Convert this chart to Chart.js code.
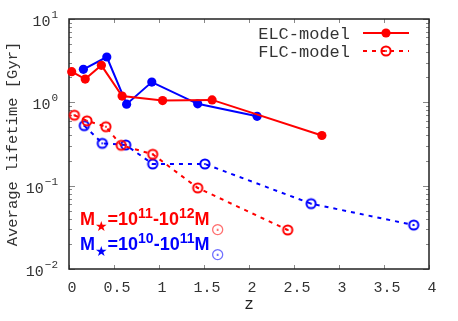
<!DOCTYPE html>
<html>
<head>
<meta charset="utf-8">
<script src="https://cdn.jsdelivr.net/npm/chart.js@4/dist/chart.umd.min.js"></script>
<style>
  html, body { margin: 0; padding: 0; background: #fff; }
  canvas { display: block; }
</style>
</head>
<body>
<canvas id="chart" width="458" height="321"></canvas>
<script>
/* ===== Data ===== */
const zElcHigh = [0.03, 0.18, 0.36, 0.59, 1.04, 1.59, 2.81];
const tElcHigh = [2.33, 1.90, 2.78, 1.19, 1.05, 1.07, 0.40];
const zElcLow  = [0.16, 0.42, 0.64, 0.92, 1.43, 2.09];
const tElcLow  = [2.49, 3.50, 0.95, 1.75, 0.96, 0.68];
const zFlcHigh = [0.06, 0.20, 0.41, 0.58, 0.93, 1.43, 2.43];
const tFlcHigh = [0.70, 0.60, 0.51, 0.305, 0.238, 0.094, 0.0294];
const zFlcLow  = [0.17, 0.37, 0.63, 0.93, 1.51, 2.69, 3.83];
const tFlcLow  = [0.525, 0.322, 0.308, 0.182, 0.182, 0.0608, 0.0337];

const xTicks = [0, 0.5, 1, 1.5, 2, 2.5, 3, 3.5, 4];
const yTicks = [0.01, 0.1, 1, 10];
const legendNames = ['ELC-model', 'FLC-model'];
const massRanges = [['11', '12'], ['10', '11']];

const RED = '#ff0000', BLUE = '#0000ff';
const MONO = '"Liberation Mono", "DejaVu Sans Mono", monospace';

const pts = (xs, ys) => xs.map((x, i) => ({ x, y: ys[i] }));

// open circle with a dot in the middle (gnuplot style)
function ring(color) {
  const c = document.createElement('canvas');
  c.width = 14; c.height = 14;
  const g = c.getContext('2d');
  g.strokeStyle = color; g.fillStyle = color; g.lineWidth = 2;
  g.beginPath(); g.arc(7, 7, 4.6, 0, Math.PI * 2); g.stroke();
  g.beginPath(); g.arc(7, 7, 1, 0, Math.PI * 2); g.fill();
  return c;
}

function solidSet(label, data, color) {
  return { label, data, borderColor: color, backgroundColor: color, borderWidth: 2,
    pointRadius: 4.6, pointBorderWidth: 0, pointStyle: 'circle', clip: false, tension: 0 };
}
function dashedSet(label, data, color) {
  return { label, data, borderColor: color, backgroundColor: color, borderWidth: 2,
    borderDash: [4, 5], pointStyle: ring(color), pointRadius: 5, clip: false, tension: 0 };
}

/* ===== Frame + inward ticks ===== */
const frame = {
  id: 'frame',
  beforeDatasetsDraw(chart) {
    const { ctx, chartArea: a, scales: { x, y } } = chart;
    ctx.save();
    ctx.strokeStyle = '#888'; ctx.lineWidth = 1;
    ctx.beginPath();
    x.ticks.forEach(t => {
      const px = Math.round(x.getPixelForValue(t.value)) + 0.5;
      ctx.moveTo(px, a.bottom); ctx.lineTo(px, a.bottom - 4);
      ctx.moveTo(px, a.top); ctx.lineTo(px, a.top + 4);
    });
    for (let e = -2; e <= 0; e++) {
      for (let m = 1; m <= 10; m++) {
        const v = m * Math.pow(10, e);
        const py = Math.round(y.getPixelForValue(v)) + 0.5;
        const len = (m === 1 || m === 10) ? 6 : 3;
        ctx.moveTo(a.left, py); ctx.lineTo(a.left + len, py);
        ctx.moveTo(a.right, py); ctx.lineTo(a.right - len, py);
      }
    }
    ctx.stroke();
    ctx.strokeStyle = '#222'; ctx.lineWidth = 1.5;
    ctx.strokeRect(a.left, a.top, a.right - a.left, a.bottom - a.top);
    ctx.restore();
  },
  afterDraw(chart) {
    const { ctx, scales: { y } } = chart;
    ctx.save();
    // y tick labels: 10^n
    y.ticks.forEach(t => {
      const ex = String(Math.round(Math.log10(t.value))).replace('-', '−');
      const py = y.getPixelForValue(t.value);
      ctx.font = '15px ' + MONO;
      const wb = ctx.measureText('10').width;
      ctx.font = '11px ' + MONO;
      const we = ctx.measureText(ex).width;
      const x0 = 58 - wb - we - 1;
      ctx.fillStyle = '#333'; ctx.textBaseline = 'alphabetic';
      ctx.font = '15px ' + MONO;
      ctx.fillText('10', x0, py + 7);
      ctx.font = '11px ' + MONO;
      ctx.fillText(ex, x0 + wb + 1, py - 1);
    });

    // legend
    const ds = chart.data.datasets;
    [[ds[0], 33], [ds[2], 51]].forEach(([d, ly]) => {
      ctx.font = '17px ' + MONO; ctx.fillStyle = '#333';
      ctx.textAlign = 'right'; ctx.textBaseline = 'middle';
      ctx.fillText(d.label, 350, ly + 1);
      ctx.strokeStyle = d.borderColor; ctx.lineWidth = 2;
      ctx.setLineDash(d.borderDash || []);
      ctx.beginPath(); ctx.moveTo(363, ly); ctx.lineTo(409, ly); ctx.stroke();
      ctx.setLineDash([]);
      if (d.pointStyle === 'circle') {
        ctx.fillStyle = d.borderColor;
        ctx.beginPath(); ctx.arc(386, ly, 4.6, 0, Math.PI * 2); ctx.fill();
      } else {
        ctx.drawImage(d.pointStyle, 386 - 7, ly - 7);
      }
    });

    // mass-range annotations
    ctx.textAlign = 'left'; ctx.textBaseline = 'alphabetic';
    const main = 'bold 18px "Liberation Sans", Arial, sans-serif';
    const sup = 'bold 14px "Liberation Sans", Arial, sans-serif';
    const star = '14px "DejaVu Sans", sans-serif';
    const sun = '17px "DejaVu Sans", sans-serif';
    [[RED, '#ff7070', 225, massRanges[0]], [BLUE, '#7070ff', 250, massRanges[1]]].forEach(([col, light, by, [e1, e2]]) => {
      let cx = 80;
      const put = (t, f, dy, c) => {
        ctx.font = f; ctx.fillStyle = c || col;
        ctx.fillText(t, cx, by + dy);
        cx += ctx.measureText(t).width;
      };
      put('M', main, 0); put('★', star, 6); put('=10', main, 0); put(e1, sup, -7);
      put('-10', main, 0); put(e2, sup, -7); put('M', main, 0);
      cx += 1; put('⊙', sun, 10, light);
    });
    ctx.restore();
  }
};

new Chart(document.getElementById('chart'), {
  type: 'line',
  data: {
    datasets: [
      solidSet(legendNames[0], pts(zElcHigh, tElcHigh), RED),
      solidSet('', pts(zElcLow, tElcLow), BLUE),
      dashedSet(legendNames[1], pts(zFlcHigh, tFlcHigh), RED),
      dashedSet('', pts(zFlcLow, tFlcLow), BLUE)
    ]
  },
  options: {
    responsive: false,
    animation: false,
    devicePixelRatio: 1,
    layout: { padding: { top: 19, right: 29, left: 0, bottom: 0 } },
    plugins: { legend: { display: false }, tooltip: { enabled: false } },
    scales: {
      x: {
        type: 'linear', min: 0, max: 4,
        afterBuildTicks: s => { s.ticks = xTicks.map(v => ({ value: v })); },
        afterFit: s => { s.height = 52; },
        grid: { display: false }, border: { display: false },
        ticks: { color: '#333', font: { family: MONO, size: 15 }, padding: 2, labelOffset: 3, maxRotation: 0,
          callback: v => String(v) },
        title: { display: true, text: 'z', color: '#222', font: { family: MONO, size: 16 }, padding: { top: 0, bottom: 7 } }
      },
      y: {
        type: 'logarithmic', min: 0.01, max: 10,
        afterBuildTicks: s => { s.ticks = yTicks.map(v => ({ value: v })); },
        afterFit: s => { s.width = 69; },
        grid: { display: false }, border: { display: false },
        ticks: { display: false },
        title: { display: true, text: 'Average lifetime [Gyr]', color: '#333', font: { family: MONO, size: 15.5 }, padding: { top: 4, bottom: 0 } }
      }
    }
  },
  plugins: [frame]
});
</script>
</body>
</html>
